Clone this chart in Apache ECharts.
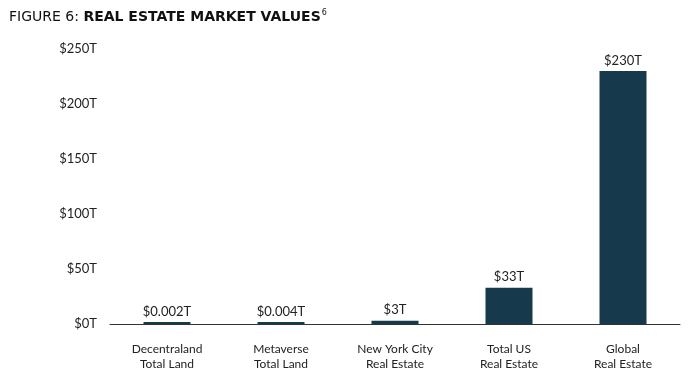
<!DOCTYPE html>
<html><head><meta charset="utf-8">
<script src="https://cdn.jsdelivr.net/npm/echarts@6/dist/echarts.min.js"></script>
<style>html,body{margin:0;padding:0;background:#fff}#c{width:691px;height:380px}</style>
</head><body><div id="c"></div>
<script>
const categories = ["Decentraland\nTotal Land", "Metaverse\nTotal Land", "New York City\nReal Estate", "Total US\nReal Estate", "Global\nReal Estate"];
const values = [0.002, 0.004, 3, 33, 230];
const valueLabels = ["$0.002T", "$0.004T", "$3T", "$33T", "$230T"];
const yTicks = [0, 50, 100, 150, 200, 250];

const chart = echarts.init(document.getElementById('c'));
chart.setOption({
  animation: false,
  title: {
    left: 4, top: 4,
    text: '{a|FIGURE 6: }{b|REAL ESTATE MARKET VALUES}{c|6}',
    textStyle: {
      fontWeight: 'normal',
      rich: {
        a: {fontFamily: 'DejaVu Sans', fontSize: 14, fontWeight: 'normal', color: '#111'},
        b: {fontFamily: 'DejaVu Sans', fontSize: 14, fontWeight: 'bold', color: '#111'},
        c: {fontFamily: 'DejaVu Sans', fontSize: 8, fontWeight: 'normal', color: '#111', padding: [0, 0, 8, 1]}
      }
    }
  },
  grid: {left: 110, right: 11, top: 49, bottom: 56},
  xAxis: {
    type: 'category', data: categories,
    axisLine: {lineStyle: {color: '#333', width: 1}},
    axisTick: {show: false},
    axisLabel: {fontFamily: 'Lato', fontSize: 12, color: '#222', margin: 18, lineHeight: 15}
  },
  yAxis: {
    type: 'value', min: 0, max: 250, interval: 50,
    splitLine: {show: false}, axisLine: {show: false}, axisTick: {show: false},
    axisLabel: {fontFamily: 'Lato', fontSize: 13, color: '#222', margin: 13,
      formatter: v => yTicks.includes(v) ? '$' + v + 'T' : ''}
  },
  series: [{
    type: 'bar', data: values, barWidth: 47, barMinHeight: 2,
    itemStyle: {color: '#16394c'},
    label: {show: true, position: 'top', distance: 4, fontFamily: 'Lato', fontSize: 13, color: '#222',
      formatter: p => valueLabels[p.dataIndex]}
  }]
});
</script></body></html>
